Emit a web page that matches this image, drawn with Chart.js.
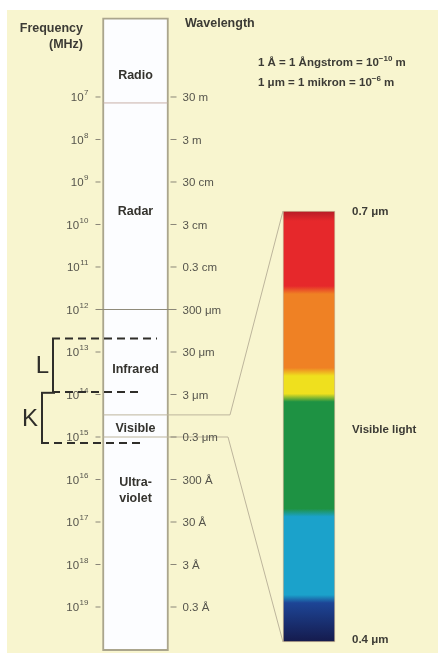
<!DOCTYPE html>
<html><head><meta charset="utf-8">
<script src="https://cdn.jsdelivr.net/npm/chart.js@4.4.1/dist/chart.umd.min.js"></script>
<style>html,body{margin:0;padding:0;background:#fff;}#wrap{width:438px;height:653px;position:relative;}</style>
</head><body><div id="wrap"><canvas id="c"></canvas></div>
<script>
// ---- data ----
const freqExponents = [7, 8, 9, 10, 11, 12, 13, 14, 15, 16, 17, 18, 19];          // log10(MHz)
const wavelengthLabels = ['30 m', '3 m', '30 cm', '3 cm', '0.3 cm', '300 μm', '30 μm', '3 μm', '0.3 μm', '300 Å', '30 Å', '3 Å', '0.3 Å'];
const bandNames = ['Radio', 'Radar', 'Infrared', 'Visible', 'Ultra-\nviolet'];
const bandEdges = [5.14, 7.14, 12, 14.48, 15.0, 20.03];                                 // log10(MHz)
const visEdges = [0.70, 0.645, 0.588, 0.570, 0.490, 0.430, 0.40];                        // μm
const visColors = ['#e6282b', '#ef8124', '#efe01e', '#1e9243', '#1ba2cb', '#1c2a70'];
const bracketNames = ['L', 'K'];
const bracketRanges = [[12.68, 13.94], [13.96, 15.14]];                                  // log10(MHz)

// ---- layout ----
const COL_X = 135.5, COL_W = 66, SPEC_X = 309, SPEC_W = 52;
const bandLabelAt = [6.5, 9.7, 13.42, 14.79, 16.08];
const FONT = '"Liberation Sans", Arial, sans-serif';

function px(chart, id, v) { return chart.scales[id].getPixelForValue(v); }

function specGradient(context) {
  const chart = context.chart;
  if (!chart.scales || !chart.scales.yV) return visColors[0];
  const c = chart.ctx;
  const y0 = px(chart, 'yV', visEdges[0]);
  const y1 = px(chart, 'yV', visEdges[visEdges.length - 1]);
  if (!isFinite(y0) || !isFinite(y1) || y1 === y0) return visColors[0];
  const H = y1 - y0;
  const g = c.createLinearGradient(0, y0, 0, y1);
  const f = y => Math.min(1, Math.max(0, (y - y0) / H));
  g.addColorStop(0, '#b51d27');
  for (let i = 0; i < visColors.length; i++) {
    const a = px(chart, 'yV', visEdges[i]), b = px(chart, 'yV', visEdges[i + 1]);
    const last = i === visColors.length - 1;
    g.addColorStop(f(a + (i === 0 ? 10 : 4)), last ? '#1d4596' : visColors[i]);
    g.addColorStop(f(b - (last ? 0 : 4)), last ? '#151a4c' : visColors[i]);
  }
  return g;
}

const bgPlugin = {
  id: 'bg',
  beforeDraw(chart) {
    const c = chart.ctx;
    c.save();
    c.fillStyle = '#fff';
    c.fillRect(0, 0, chart.width, chart.height);
    c.fillStyle = '#f8f5cf';
    c.fillRect(7, 10, chart.width - 7, chart.height - 10);
    c.restore();
  }
};

function line(c, pts, color, w, dash) {
  c.save();
  c.strokeStyle = color; c.lineWidth = w;
  c.setLineDash(dash || []);
  c.beginPath();
  pts.forEach((p, i) => i ? c.lineTo(p[0], p[1]) : c.moveTo(p[0], p[1]));
  c.stroke();
  c.restore();
}

const overlayPlugin = {
  id: 'overlay',
  afterDatasetsDraw(chart) {
    const c = chart.ctx;
    const fy = v => px(chart, 'yF', v);
    const vy = v => px(chart, 'yV', v);
    const X = v => px(chart, 'x', v);
    const colL = X(COL_X - COL_W / 2), colR = X(COL_X + COL_W / 2);
    const specL = X(SPEC_X - SPEC_W / 2);

    // band boundaries
    line(c, [[colL + 1, fy(bandEdges[1])], [colR - 1, fy(bandEdges[1])]], '#c8b0a8', 1);
    line(c, [[colL - 6, fy(bandEdges[2])], [colR + 5, fy(bandEdges[2])]], '#8f8b7a', 1.2);
    line(c, [[colL + 1, fy(bandEdges[3])], [X(230), fy(bandEdges[3])], [specL, vy(visEdges[0])]], '#bdb59c', 1);
    line(c, [[colL + 1, fy(bandEdges[4])], [X(228), fy(bandEdges[4])], [specL, vy(visEdges[visEdges.length - 1])]], '#bdb59c', 1);

    // ticks and labels
    c.save();
    c.textBaseline = 'middle';
    freqExponents.forEach((e, i) => {
      const y = fy(e);
      line(c, [[colL - 7, y], [colL - 2, y]], '#8a8678', 1);
      line(c, [[colR + 2, y], [colR + 8, y]], '#8a8678', 1);
      c.fillStyle = '#55544c';
      c.font = '8px ' + FONT;
      const ew = c.measureText(String(e)).width;
      c.textAlign = 'left';
      c.fillText(String(e), colL - 14 - ew, y - 4);
      c.font = '11.5px ' + FONT;
      c.textAlign = 'right';
      c.fillText('10', colL - 14.5 - ew, y + 1);
      c.textAlign = 'left';
      c.fillText(wavelengthLabels[i], colR + 14, y + 1);
    });

    // band names
    c.fillStyle = '#34332e';
    c.font = 'bold 12.5px ' + FONT;
    c.textAlign = 'center';
    bandNames.forEach((n, i) => {
      const parts = n.split('\n');
      parts.forEach((p, j) => c.fillText(p, X(COL_X), fy(bandLabelAt[i]) + j * 16));
    });

    // headers
    c.fillStyle = '#3c3b35';
    c.font = 'bold 12.5px ' + FONT;
    c.textAlign = 'right';
    c.fillText('Frequency', 83, 29);
    c.fillText('(MHz)', 83, 45);
    c.textAlign = 'left';
    c.fillText('Wavelength', 185, 24);
    const writeSup = (parts, x, y) => {
      parts.forEach(([t, sup]) => {
        c.font = (sup ? 'bold 8px ' : 'bold 11.5px ') + FONT;
        c.fillText(t, x, sup ? y - 4 : y);
        x += c.measureText(t).width;
      });
    };
    writeSup([['1 Å = 1 Ångstrom = 10', 0], ['−10', 1], [' m', 0]], 258, 63);
    writeSup([['1 μm = 1 mikron = 10', 0], ['−6', 1], [' m', 0]], 258, 83);

    // spectrum labels
    c.font = 'bold 11.5px ' + FONT;
    const labX = X(SPEC_X + SPEC_W / 2) + 17;
    c.fillText('0.7 μm', labX, vy(visEdges[0]) + 1);
    c.fillText('0.4 μm', labX, vy(visEdges[visEdges.length - 1]) - 2);
    c.fillText('Visible light', labX, 430);
    c.restore();

    // L / K brackets
    const bx = [53, 42];
    const ends = [[157, 140], [55, 140]];
    bracketRanges.forEach((r, i) => {
      const y0 = fy(r[0]), y1 = fy(r[1]);
      line(c, [[bx[i], y0], [bx[i], y1]], '#2f2e2a', 2);
      line(c, [[bx[i] - 1, y0], [ends[i][0], y0]], '#2f2e2a', 2, i === 0 ? [8, 5] : []);
      line(c, [[bx[i] - 1, y1], [ends[i][1], y1]], '#2f2e2a', 2, [8, 5]);
      c.save();
      c.fillStyle = '#2f2e2a';
      c.font = '24px ' + FONT;
      c.textAlign = 'right';
      c.textBaseline = 'middle';
      c.fillText(bracketNames[i], bx[i] - 4, (y0 + y1) / 2 + 1);
      c.restore();
    });
  }
};

const chart = new Chart(document.getElementById('c'), {
  type: 'bar',
  data: {
    datasets: [
      {
        label: 'Spectrum',
        data: [{ x: COL_X, y: [bandEdges[0], bandEdges[bandEdges.length - 1]] }],
        yAxisID: 'yF',
        backgroundColor: '#fcfdff',
        borderColor: '#aaa58d',
        borderWidth: 2,
        borderSkipped: false,
        barThickness: COL_W,
        grouped: false
      },
      {
        label: 'Visible light',
        data: [{ x: SPEC_X, y: [visEdges[visEdges.length - 1], visEdges[0]] }],
        yAxisID: 'yV',
        backgroundColor: specGradient,
        borderColor: 'rgba(120,70,40,0.35)',
        borderWidth: 1,
        borderSkipped: false,
        barThickness: SPEC_W,
        grouped: false
      }
    ]
  },
  options: {
    responsive: true,
    maintainAspectRatio: false,
    animation: false,
    layout: { padding: 0 },
    plugins: { legend: { display: false }, tooltip: { enabled: false } },
    scales: {
      x: { type: 'linear', min: 0, max: 438, offset: false, display: false },
      yF: { type: 'linear', min: 4.718, max: 20.082, reverse: true, display: false },
      yV: { type: 'linear', min: 0.39234, max: 0.84687, display: false }
    }
  },
  plugins: [bgPlugin, overlayPlugin]
});
chart.update();
</script>
</body></html>
